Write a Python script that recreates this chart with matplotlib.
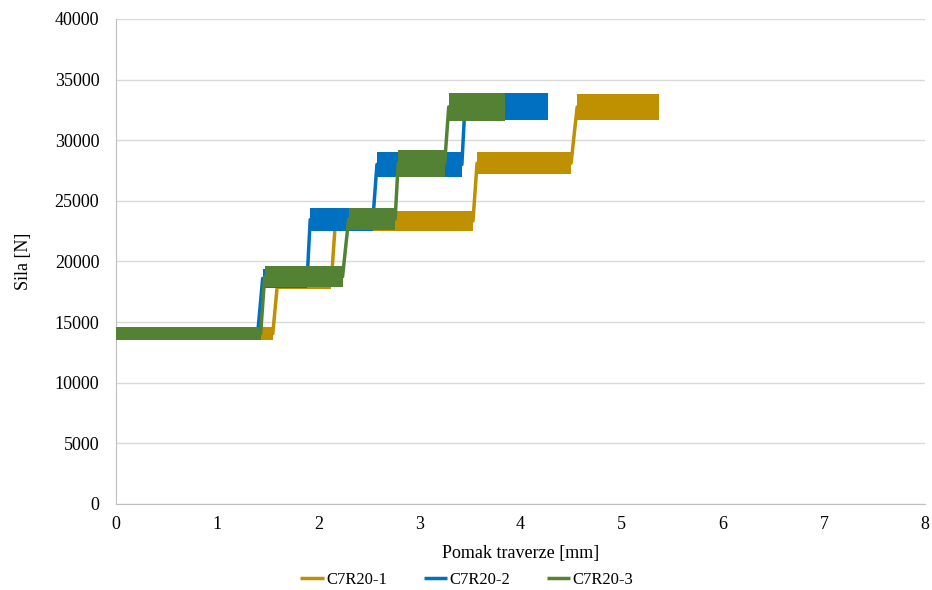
import numpy as np
import matplotlib.pyplot as plt

plt.rcParams['font.family'] = ['Liberation Serif', 'DejaVu Serif']

# Series names and colours
names = ['C7R20-1', 'C7R20-2', 'C7R20-3']
colors = ['#BF9000', '#0070C0', '#548235']

# Each force plateau: start/end displacement [mm], lower/upper edge of the noisy band [N]
start1 = [0.0, 1.60, 2.17, 3.57, 4.56]
end1 = [1.55, 2.13, 3.53, 4.50, 5.37]
lo1 = [13500, 17700, 22500, 27200, 31700]
hi1 = [14600, 19300, 24200, 29000, 33800]

start2 = [0.0, 1.45, 1.92, 2.58, 3.45]
end2 = [1.40, 1.89, 2.54, 3.42, 4.27]
lo2 = [13500, 17800, 22500, 27000, 31700]
hi2 = [14500, 19400, 24400, 29000, 33900]

start3 = [0.0, 1.47, 2.30, 2.79, 3.29]
end3 = [1.43, 2.24, 2.76, 3.25, 3.85]
lo3 = [13500, 17900, 22600, 27000, 31600]
hi3 = [14600, 19600, 24400, 29200, 33900]

series = [(start1, end1, lo1, hi1), (start2, end2, lo2, hi2), (start3, end3, lo3, hi3)]

fig = plt.figure(figsize=(9.32, 5.90), dpi=100)
ax = fig.add_axes([0.1245, 0.1458, 0.868, 0.822])

z = 3
for (s, e, lo, hi), name, c in zip(series, names, colors):
    xs, ys = [], []
    for i in range(len(s)):
        ax.fill_between([s[i], e[i]], [lo[i], lo[i]], [hi[i], hi[i]], color=c, lw=0, zorder=z)
        mid = (lo[i] + hi[i]) / 2
        xs += [s[i], e[i]]
        ys += [mid, mid]
    ax.plot(xs, ys, color=c, lw=2.5, label=name, zorder=z + 0.5, solid_capstyle='butt')
    z += 1

ax.set_xlim(0, 8)
ax.set_ylim(0, 40000)
ax.set_xticks(np.arange(0, 9, 1))
ax.set_yticks(np.arange(0, 40001, 5000))
ax.grid(axis='y', color='#D9D9D9', lw=1)
ax.set_axisbelow(True)
for sp in ['top', 'right']:
    ax.spines[sp].set_visible(False)
for sp in ['left', 'bottom']:
    ax.spines[sp].set_color('#BFBFBF')
ax.tick_params(length=0, labelsize=13, colors='black')
ax.tick_params(axis='y', pad=12)
ax.tick_params(axis='x', pad=9)
ax.set_xlabel('Pomak traverze [mm]', fontsize=13, labelpad=8)
ax.set_ylabel('Sila [N]', fontsize=13, labelpad=16)

fig.legend(loc='lower center', ncol=3, frameon=False, fontsize=12,
           bbox_to_anchor=(0.501, -0.022), handlelength=1.4, columnspacing=2.2, handletextpad=0.15)

fig.savefig('out.png', dpi=100)
